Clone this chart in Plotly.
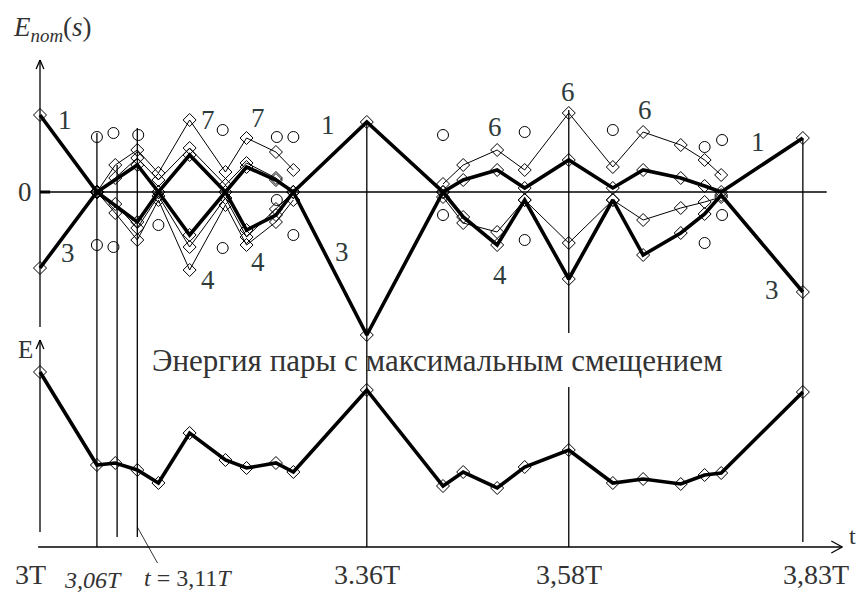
import plotly.graph_objects as go

# ---------------- data ----------------
# node times, in periods T
t_nodes = [3.000, 3.062, 3.082, 3.106, 3.129, 3.163, 3.202, 3.225, 3.257, 3.276,
           3.356, 3.439, 3.461, 3.498, 3.528, 3.576, 3.624, 3.657, 3.698, 3.724,
           3.742, 3.831]

# potential energy curves E_pot(s), arbitrary units
e_curve1 = [0.77, 0.00, None, 0.27, 0.00, 0.37, 0.00, 0.25, 0.12, 0.00,
            0.70, 0.00, 0.12, 0.22, 0.04, 0.32, 0.04, 0.22, 0.14, 0.06,
            0.00, 0.54]
e_curve3 = [-0.76, 0.00, None, -0.30, 0.00, -0.43, 0.00, -0.38, -0.23, 0.00,
            -1.43, 0.00, -0.25, -0.53, -0.08, -0.87, -0.08, -0.63, -0.41, -0.22,
            -0.03, -1.00]
e_curve76 = [None, 0.00, 0.27, 0.42, 0.19, 0.72, 0.20, 0.54, 0.40, 0.22,
             None, 0.08, 0.27, 0.42, 0.22, 0.79, 0.25, 0.60, 0.47, 0.32,
             0.17, None]
e_inner_up = [None, 0.00, 0.14, 0.34, 0.12, 0.44, 0.07, 0.29, 0.14, 0.00,
              None, None, None, None, None, None, None, None, None, None,
              None, None]
e_curve4 = [None, 0.00, -0.21, -0.48, -0.08, -0.78, -0.13, -0.53, -0.30, -0.08,
            None, -0.05, -0.31, -0.40, -0.08, -0.51, -0.08, -0.28, -0.16, -0.10,
            -0.05, None]
e_inner_dn = [None, 0.00, -0.12, -0.36, -0.04, -0.55, -0.06, -0.45, -0.17, 0.00,
              None, None, None, None, None, None, None, None, None, None,
              None, None]

# separate circle points
circ_t = [3.062, 3.080, 3.107, 3.062, 3.080, 3.129, 3.199, 3.199, 3.258, 3.276,
          3.258, 3.276, 3.439, 3.439, 3.528, 3.528, 3.624, 3.724, 3.743, 3.743,
          3.724]
circ_e = [0.55, 0.59, 0.57, -0.53, -0.55, -0.33, 0.62, -0.56, 0.55, 0.55,
          -0.08, -0.43, 0.57, -0.23, 0.60, -0.48, 0.62, 0.45, 0.52, -0.23,
          -0.51]

# energy of the pair with maximal displacement
e_pair = [1.75, 0.82, 0.84, 0.77, 0.64, 1.14, 0.87, 0.79, 0.84, 0.75,
          1.57, 0.61, 0.75, 0.59, 0.80, 0.97, 0.64, 0.68, 0.63, 0.72,
          0.74, 1.55]

# vertical guide lines: time, top end (E_pot units), bottom end (E units)
guide_t = [3.062, 3.084, 3.106, 3.356, 3.831]
guide_top = [0.59, 0.27, 0.64, 0.70, 0.54]
guide_bot = [0.00, 0.10, 0.10, 0.00, 0.05]

tick_labels = [("3T", 2.990), ("3.36T", 3.356), ("3,58T", 3.576), ("3,83T", 3.845)]
curve_labels = [("1", 3.027, 0.72), ("1", 3.314, 0.67), ("1", 3.782, 0.50),
                ("3", 3.031, -0.61), ("3", 3.329, -0.60), ("3", 3.797, -0.98),
                ("7", 3.183, 0.72), ("7", 3.237, 0.74),
                ("4", 3.183, -0.88), ("4", 3.237, -0.70), ("4", 3.501, -0.83),
                ("6", 3.496, 0.65), ("6", 3.575, 1.00), ("6", 3.659, 0.82)]

# ---------------- geometry of the drawing ----------------
# the page body has an 8 px margin, so the figure starts 8 px into the window
OFF = 8
W, H = 866 - OFF, 598 - OFF
PX_T0, PX_PER_T = 40 - OFF, 918          # x pixel of 3T, pixels per period
TOP_ZERO, BOT_ZERO, PX_PER_U = 192 - OFF, 547 - OFF, 100


def top_to_e(v):
    """convert an E_pot value to the lower (E) axis units"""
    return v + (BOT_ZERO - TOP_ZERO) / PX_PER_U


x_range = [3 - PX_T0 / PX_PER_T, 3 + (W - PX_T0) / PX_PER_T]
y_range = [-(H - TOP_ZERO) / PX_PER_U, TOP_ZERO / PX_PER_U]
y2_range = [-(H - BOT_ZERO) / PX_PER_U, BOT_ZERO / PX_PER_U]

INK = "black"
TXT = "#333333"
NUM = "#2d3b3b"
FONT = "Times New Roman, Liberation Serif, DejaVu Serif, serif"

fig = go.Figure()

thin = dict(color=INK, width=1)
thick = dict(color=INK, width=3.6)
dia = dict(symbol="diamond-open", size=10, color=INK, line=dict(width=1))

for ys in (e_curve76, e_inner_up, e_curve4, e_inner_dn):
    fig.add_trace(go.Scatter(x=t_nodes, y=ys, mode="lines+markers", line=thin,
                             marker=dia, connectgaps=False, hoverinfo="skip"))
for ys in (e_curve1, e_curve3):
    fig.add_trace(go.Scatter(x=t_nodes, y=ys, mode="lines+markers", line=thick,
                             marker=dia, connectgaps=True, hoverinfo="skip"))
fig.add_trace(go.Scatter(x=circ_t, y=circ_e, mode="markers",
                         marker=dict(symbol="circle-open", size=11, color=INK,
                                     line=dict(width=1)), hoverinfo="skip"))
fig.add_trace(go.Scatter(x=t_nodes, y=e_pair, yaxis="y2", mode="lines+markers",
                         line=thick, marker=dia, hoverinfo="skip"))

LW = dict(color=INK, width=1.3)
shapes = []
# zero line of the upper diagram
shapes.append(dict(type="line", xref="x", yref="y", x0=3.0, x1=3.857, y0=0, y1=0,
                   line=LW))
shapes.append(dict(type="line", xref="x", yref="y", x0=3.0, x1=3.011, y0=0, y1=0,
                   line=dict(color=INK, width=3)))
# time axis
shapes.append(dict(type="line", xref="x", yref="y2", x0=2.998, x1=3.874, y0=0, y1=0,
                   line=dict(color=INK, width=1.6)))
# vertical axes
shapes.append(dict(type="line", xref="x", yref="y", x0=3.0, x1=3.0, y0=-1.35, y1=1.32,
                   line=LW))
shapes.append(dict(type="line", xref="x", yref="y2", x0=3.0, x1=3.0, y0=0.15, y1=2.07,
                   line=LW))
# arrow heads (small open chevrons)
AH_T, AH_V = 0.006, 0.09
for ref, tip in (("y", 1.32), ("y2", 2.07)):
    for s in (-1, 1):
        shapes.append(dict(type="line", xref="x", yref=ref, x0=3.0, y0=tip,
                           x1=3.0 + s * AH_T * 0.7, y1=tip - AH_V, line=LW))
for s in (-1, 1):
    shapes.append(dict(type="line", xref="x", yref="y2", x0=3.874, y0=0,
                       x1=3.874 - 0.012, y1=s * 0.06, line=LW))
# guide lines
for gt, gtop, gb in zip(guide_t, guide_top, guide_bot):
    shapes.append(dict(type="line", xref="x", yref="y2", x0=gt, x1=gt,
                       y0=gb, y1=top_to_e(gtop), line=LW))
# 3.58T guide, interrupted by the caption
shapes.append(dict(type="line", xref="x", yref="y", x0=3.576, x1=3.576,
                   y0=-1.41, y1=0.82, line=LW))
shapes.append(dict(type="line", xref="x", yref="y2", x0=3.576, x1=3.576,
                   y0=0.0, y1=1.60, line=LW))
# pointer to t = 3,11T
shapes.append(dict(type="line", xref="x", yref="y2", x0=3.106, x1=3.128,
                   y0=0.20, y1=-0.16, line=dict(color=INK, width=0.8)))
fig.update_layout(shapes=shapes)

ann = []
for txt, tx, ty in curve_labels:
    ann.append(dict(x=tx, y=ty, xref="x", yref="y", text=txt, showarrow=False,
                    font=dict(family=FONT, size=27, color=NUM)))
for txt, tx in tick_labels:
    ann.append(dict(x=tx, y=-0.27, xref="x", yref="y2", text=txt, showarrow=False,
                    font=dict(family=FONT, size=28, color=TXT)))
ann.append(dict(x=3.058, y=-0.33, xref="x", yref="y2", text="<i>3,06T</i>",
                showarrow=False, font=dict(family=FONT, size=24, color=TXT)))
ann.append(dict(x=3.161, y=-0.31, xref="x", yref="y2", text="<i>t</i> = 3,11<i>T</i>",
                showarrow=False, font=dict(family=FONT, size=24, color=TXT)))
ann.append(dict(x=3.885, y=0.11, xref="x", yref="y2", text="t", showarrow=False,
                font=dict(family=FONT, size=24, color=TXT)))
ann.append(dict(x=2.984, y=0.0, xref="x", yref="y", text="0", showarrow=False,
                font=dict(family=FONT, size=27, color=TXT)))
ann.append(dict(x=2.984, y=1.98, xref="x", yref="y2", text="E", showarrow=False,
                font=dict(family=FONT, size=25, color=TXT)))
ann.append(dict(x=3.014, y=1.63, xref="x", yref="y", text="<i>E<sub>пот</sub></i>(<i>s</i>)",
                showarrow=False, font=dict(family=FONT, size=27, color=TXT)))
ann.append(dict(x=3.433, y=1.87, xref="x", yref="y2",
                text="Энергия пары с максимальным смещением", showarrow=False,
                font=dict(family=FONT, size=31, color=TXT)))
fig.update_layout(annotations=ann)

fig.update_layout(
    width=W, height=H, margin=dict(l=0, r=0, t=0, b=0),
    paper_bgcolor="white", plot_bgcolor="white", showlegend=False,
    xaxis=dict(range=x_range, visible=False, fixedrange=True),
    yaxis=dict(range=y_range, visible=False, fixedrange=True),
    yaxis2=dict(range=y2_range, visible=False, overlaying="y", fixedrange=True),
)

fig.write_html("out.html", config={"displayModeBar": False})
